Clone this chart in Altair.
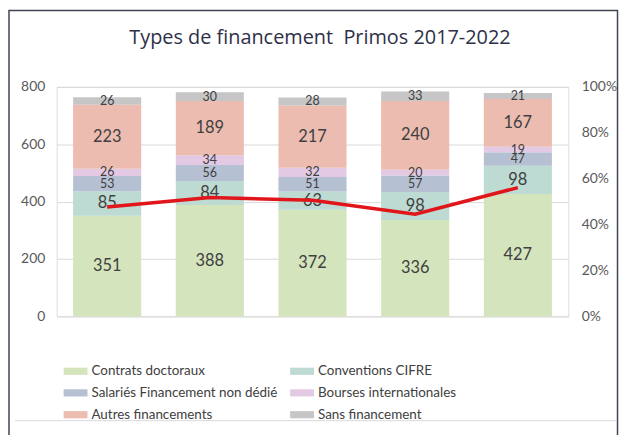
import altair as alt
import pandas as pd

years = ["2017-18", "2018-19", "2019-20", "2020-21", "2021-22"]
categories = ["Contrats doctoraux", "Conventions CIFRE", "Salariés Financement non dédié",
              "Bourses internationales", "Autres financements", "Sans financement"]
colors = ["#d4e4bc", "#bddad3", "#b6c0d3", "#e3c9e3", "#ecbcb0", "#c6c6c6"]
title_text = "Types de financement\u00a0 Primos 2017-2022"

contrats = [351, 388, 372, 336, 427]
cifre = [85, 84, 63, 98, 98]
salaries = [53, 56, 51, 57, 47]
bourses = [26, 34, 32, 20, 19]
autres = [223, 189, 217, 240, 167]
sans = [26, 30, 28, 33, 21]
ratio = [0.477, 0.518, 0.506, 0.445, 0.561]

series = [contrats, cifre, salaries, bourses, autres, sans]
rows = []
for ci, (cat, vals) in enumerate(zip(categories, series)):
    for y, v in zip(years, vals):
        rows.append({"year": y, "cat": cat, "idx": ci, "value": v})
df = pd.DataFrame(rows)
df_line = pd.DataFrame({"year": years, "pct": ratio})
df_one = pd.DataFrame({"a": [0]})

# legend fills column by column: reorder so it reads row by row as in the reference
legend_order = [0, 2, 4, 1, 3, 5]
leg_domain = [categories[i] for i in legend_order]
leg_range = [colors[i] for i in legend_order]

FONT = "Lato"
xscale = alt.Scale(paddingInner=0.337, paddingOuter=0.16)
x_enc = alt.X("year:N", sort=years, title=None, scale=xscale,
              axis=alt.Axis(labelAngle=0, domain=True, domainColor="#d9d9d9", ticks=False,
                            labelPadding=8, labelFont=FONT, labelFontSize=13, labelColor="#595959"))

bars = alt.Chart(df).mark_bar().encode(
    x=x_enc,
    y=alt.Y("value:Q", stack="zero", title=None,
            scale=alt.Scale(domain=[0, 800], nice=False),
            axis=alt.Axis(orient="left", values=[0, 200, 400, 600, 800], grid=True, gridColor="#d9d9d9",
                          domain=False, ticks=False, labelPadding=12, labelFont=FONT,
                          labelFontSize=14, labelColor="#595959")),
    color=alt.Color("cat:N", title=None,
                    scale=alt.Scale(domain=leg_domain, range=leg_range),
                    legend=alt.Legend(orient="none", legendX=7, legendY=274, columns=2,
                                      columnPadding=12, rowPadding=3,
                                      symbolType="M-1,-0.3H1V0.3H-1Z", symbolSize=576,
                                      symbolStrokeWidth=0, symbolOffset=0, labelOffset=4,
                                      labelFont=FONT, labelFontSize=13.5, labelColor="#404040",
                                      labelLimit=300)),
    order=alt.Order("idx:Q", sort="ascending"),
)

labels = alt.Chart(df).transform_window(
    cum="sum(value)", groupby=["year"], sort=[alt.SortField("idx", order="ascending")],
    frame=[None, 0]
).transform_calculate(
    mid="datum.cum - datum.value / 2"
).mark_text(font=FONT, color="#404040", baseline="middle").encode(
    x=alt.X("year:N", sort=years, scale=xscale, axis=None),
    y=alt.Y("mid:Q", scale=alt.Scale(domain=[0, 800], nice=False), axis=None),
    text=alt.Text("value:Q"),
    size=alt.condition("datum.value < 60", alt.value(12.5), alt.value(16.5)),
)

line = alt.Chart(df_line).mark_line(color="#e0161b", strokeWidth=3.5).encode(
    x=alt.X("year:N", sort=years, scale=xscale, axis=None),
    y=alt.Y("pct:Q", title=None, scale=alt.Scale(domain=[0, 1], nice=False),
            axis=alt.Axis(orient="right", values=[0, 0.2, 0.4, 0.6, 0.8, 1.0], format=".0%",
                          grid=False, domain=False, ticks=False, labelPadding=13,
                          labelFont=FONT, labelFontSize=14, labelColor="#595959")),
)

frame = alt.Chart(df_one).mark_rect(fillOpacity=0, stroke="#404556", strokeWidth=1.5).encode(
    x=alt.value(-48), x2=alt.value(564.5), y=alt.value(-77), y2=alt.value(500)
)
sep = alt.Chart(df_one).mark_rule(color="#d9d9d9", strokeWidth=1).encode(
    x=alt.value(-42), x2=alt.value(563), y=alt.value(336)
)
title = alt.Chart(pd.DataFrame({"t": [title_text]})).mark_text(
    font="Open Sans", fontSize=20, fontWeight=500, color="#2e3047", align="center", baseline="alphabetic"
).encode(text="t:N", x=alt.value(265), y=alt.value(-43))

chart = alt.layer(bars, labels, line, frame, sep, title).resolve_scale(y="independent").properties(
    width=515, height=231,
    autosize=alt.AutoSizeParams(type="none"),
    padding={"left": 49, "top": 78, "right": 51, "bottom": 118},
).configure_view(stroke=None).configure(background="white")

chart.save("out.html", embed_options={"renderer": "svg", "actions": False})
